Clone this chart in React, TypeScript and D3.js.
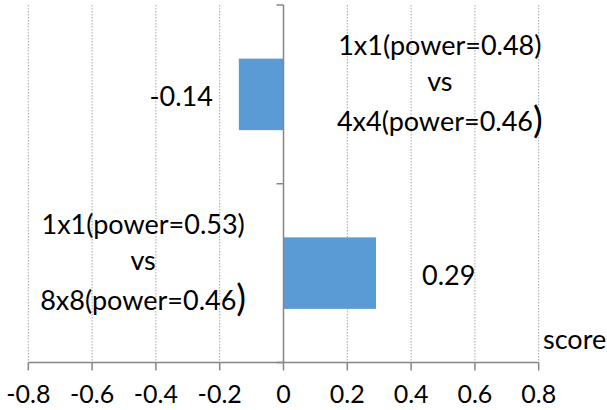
import React from "react";
import * as d3 from "d3";

// Score differences between resolutions, listed top to bottom
const categoryLines: string[][] = [
  ["1x1(power=0.48)", "vs", "4x4(power=0.46"],
  ["1x1(power=0.53)", "vs", "8x8(power=0.46"],
];
const scores: number[] = [-0.14, 0.29];
const tickValues: number[] = [-0.8, -0.6, -0.4, -0.2, 0, 0.2, 0.4, 0.6, 0.8];
const tickLabels: string[] = ["-0.8", "-0.6", "-0.4", "-0.2", "0", "0.2", "0.4", "0.6", "0.8"];
const axisTitle = "score";

const W = 607;
const H = 410;
const FONT = "Lato, 'Open Sans', sans-serif";
const GRID = "#a6a6a6";
const AXIS = "#868686";
const BAR = "#5b9bd5";

const fmt = (v: number) => d3.format(".2f")(v).replace("\u2212", "-");

export default function App() {
  const x = d3.scaleLinear().domain([-0.8, 0.8]).range([28.3, 538.7]);
  const y = d3
    .scaleBand<number>()
    .domain(d3.range(scores.length))
    .range([5, 362.5])
    .paddingInner(0.6)
    .paddingOuter(0.3);
  const band = d3.scaleBand<number>().domain(d3.range(scores.length)).range([5, 362.5]);
  const x0 = x(0);
  const fs = 27;

  return (
    <svg
      width={W}
      height={H}
      style={{ position: "absolute", left: 0, top: 0, background: "#fff" }}
      fontFamily={FONT}
    >
      {/* dotted vertical gridlines */}
      {tickValues
        .filter((t) => t !== 0)
        .map((t) => (
          <line
            key={`g${t}`}
            x1={x(t)}
            x2={x(t)}
            y1={5}
            y2={362.5}
            stroke={GRID}
            strokeWidth={1}
            strokeDasharray="1.5,1.5"
          />
        ))}

      {/* bars */}
      {scores.map((v, i) => (
        <rect
          key={`b${i}`}
          x={Math.min(x(v), x0)}
          y={y(i)}
          width={Math.abs(x(v) - x0)}
          height={y.bandwidth()}
          fill={BAR}
        />
      ))}

      {/* category axis at zero */}
      <line x1={x0} x2={x0} y1={5} y2={362.5} stroke={AXIS} strokeWidth={1.5} />
      {d3.range(scores.length + 1).map((i) => {
        const yy = i < scores.length ? band(i)! : band.range()[1];
        return <line key={`ct${i}`} x1={x0 - 7} x2={x0} y1={yy} y2={yy} stroke={AXIS} strokeWidth={1.5} />;
      })}

      {/* value axis */}
      <line x1={x(-0.8)} x2={x(0.8)} y1={362.5} y2={362.5} stroke={AXIS} strokeWidth={1.5} />
      {tickValues.map((t, i) => (
        <g key={`t${t}`}>
          <line x1={x(t)} x2={x(t)} y1={362.5} y2={370.5} stroke={AXIS} strokeWidth={1.5} />
          <text x={x(t)} y={403} textAnchor="middle" fontSize={25} fill="#000">
            {tickLabels[i]}
          </text>
        </g>
      ))}
      <text x={543} y={340} dy="0.35em" textAnchor="start" fontSize={fs} fill="#000">
        {axisTitle}
      </text>

      {/* value labels */}
      {scores.map((v, i) => {
        const cy = band(i)! + band.bandwidth() / 2 + 2;
        const neg = v < 0;
        return (
          <text
            key={`v${i}`}
            x={neg ? x(v) - 26 : x(v) + 46}
            y={cy}
            dy="0.35em"
            textAnchor={neg ? "end" : "start"}
            fontSize={fs}
            fill="#000"
          >
            {fmt(v)}
          </text>
        );
      })}

      {/* category labels, placed opposite the bar */}
      {categoryLines.map((lines, i) => {
        const cy = band(i)! + band.bandwidth() / 2;
        const cx = scores[i] < 0 ? x(0.49) : x(-0.44);
        const offsets = [-49, -13, 27];
        return (
          <g key={`c${i}`}>
            {lines.map((ln, j) => (
              <text
                key={j}
                x={cx}
                y={cy + offsets[j]}
                dy="0.35em"
                textAnchor="middle"
                fontSize={fs}
                fill="#000"
              >
                {ln}
                {j === lines.length - 1 ? <tspan fontSize={fs * 1.35} dy="0.05em">)</tspan> : null}
              </text>
            ))}
          </g>
        );
      })}
    </svg>
  );
}
